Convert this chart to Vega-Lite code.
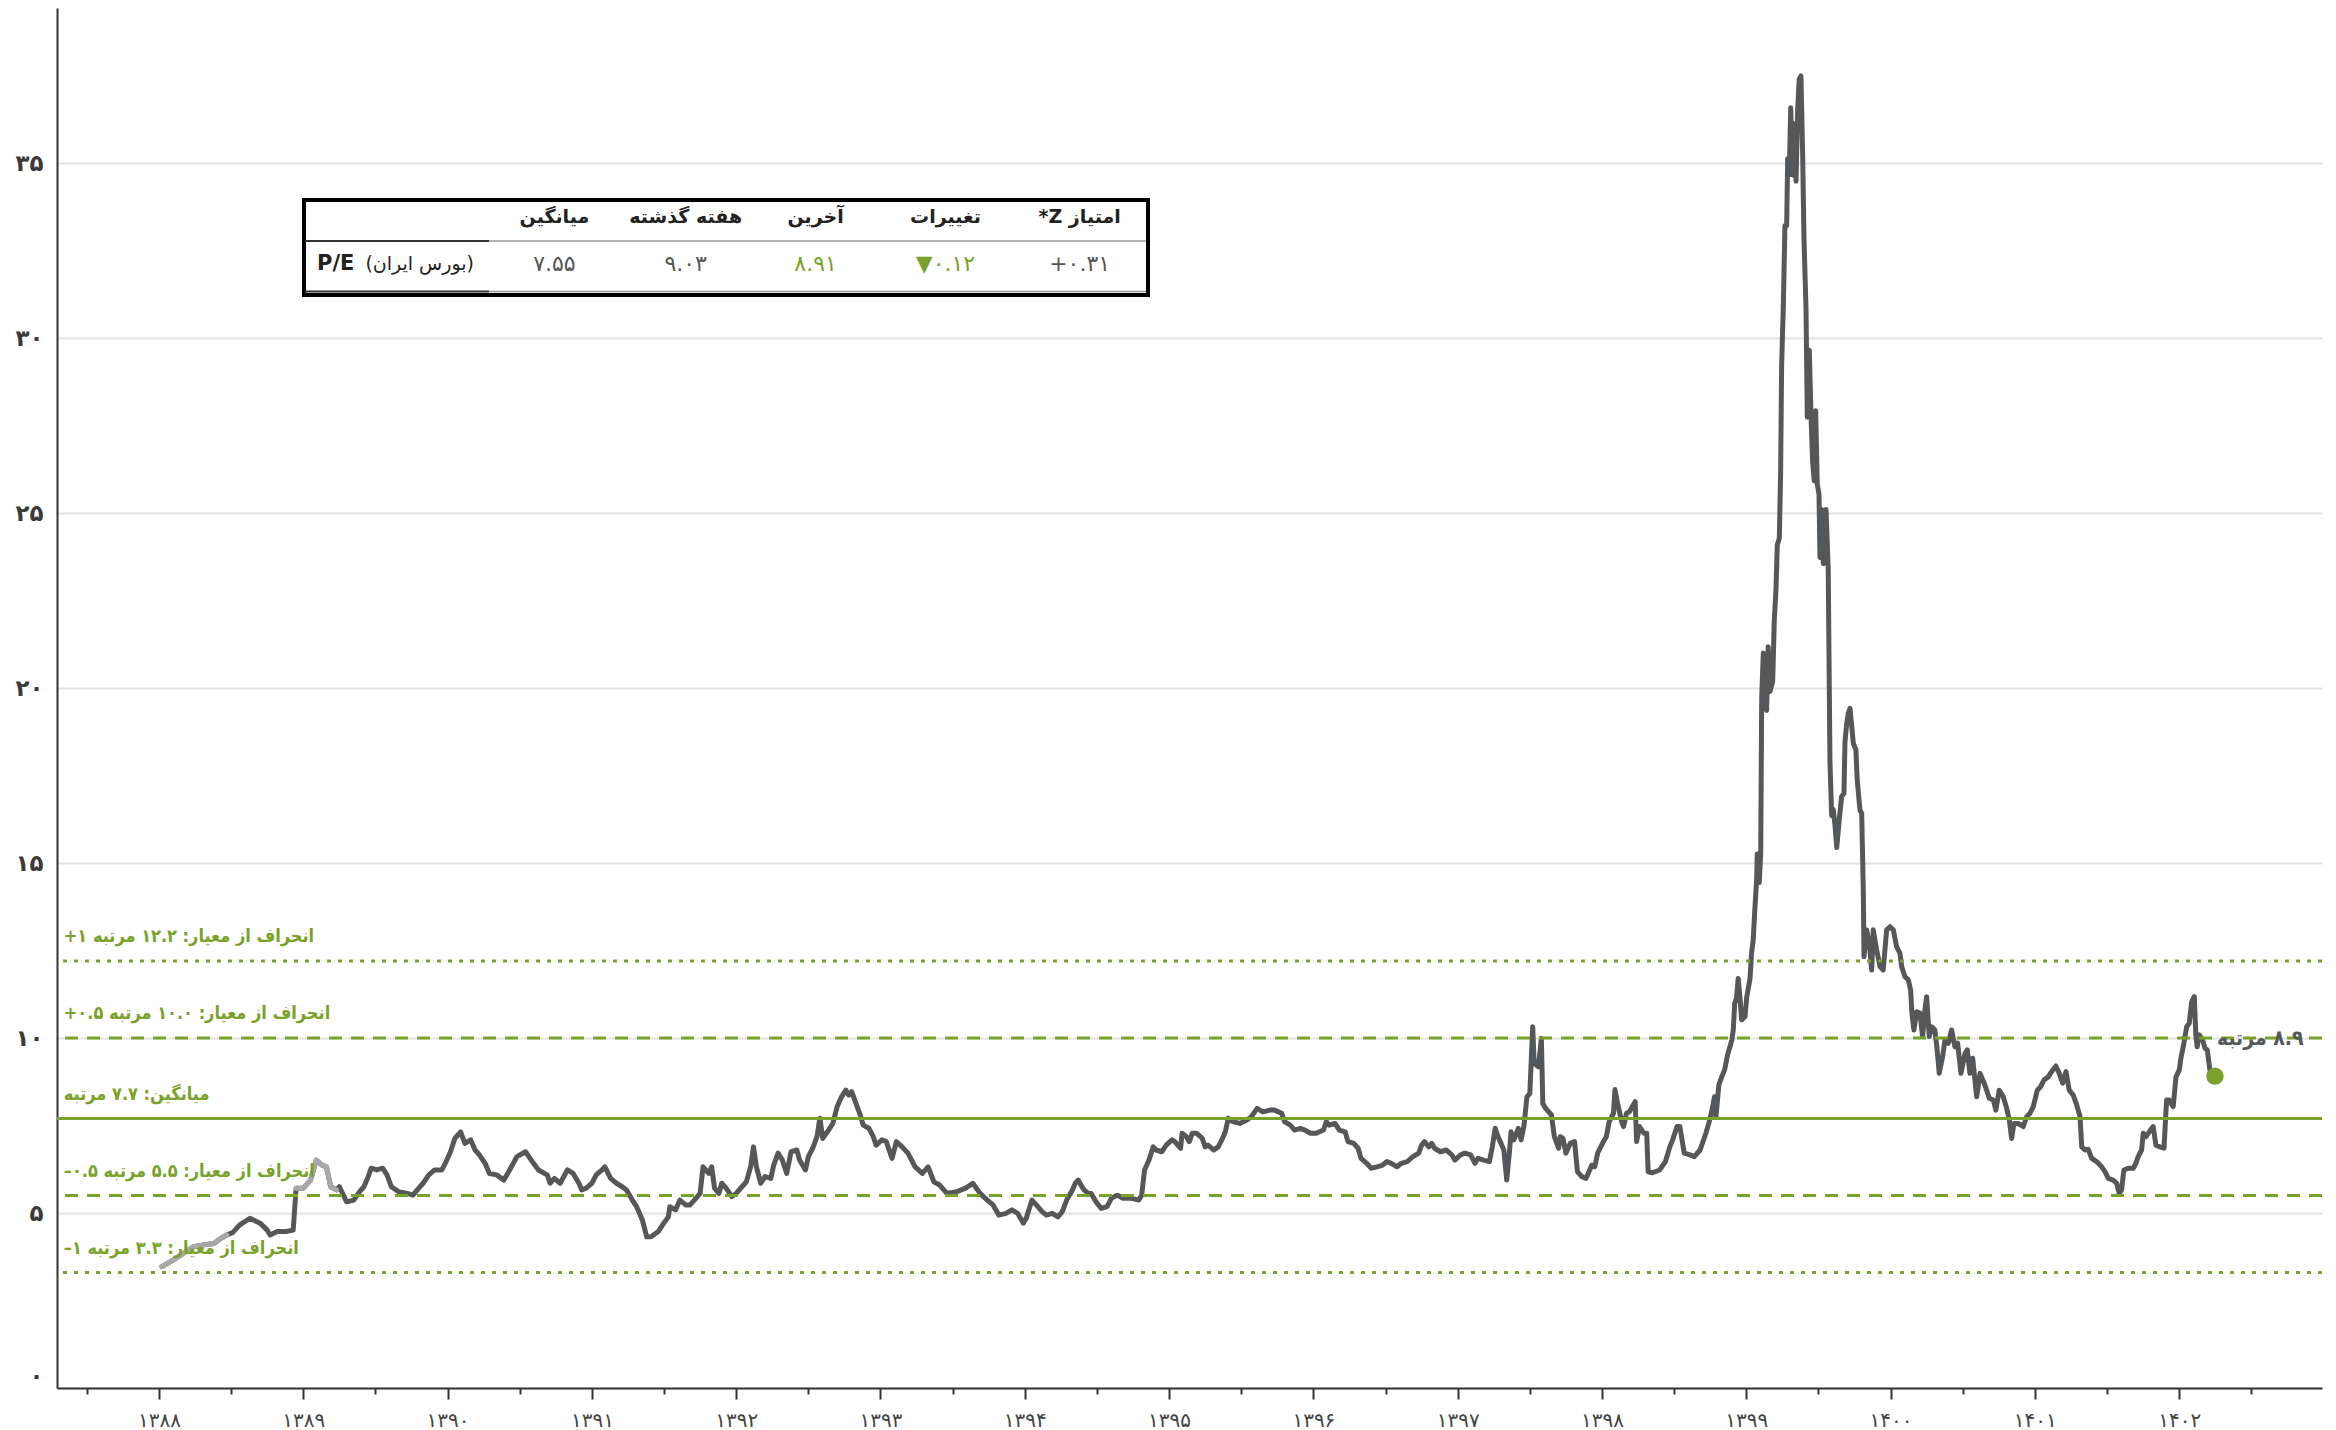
{
  "$schema": "https://vega.github.io/schema/vega-lite/v6.json",
  "width": 2265,
  "height": 1380,
  "autosize": "none",
  "padding": {"left": 57, "top": 8, "right": 14, "bottom": 42},
  "background": "white",
  "config": {"view": {"stroke": null}, "font": "DejaVu Sans"},
  "datasets": {
    "pe": [
      {"year":1388.02,"pe":3.47},{"year":1388.10,"pe":3.66},{"year":1388.17,"pe":3.85},{"year":1388.24,"pe":4.04},{"year":1388.31,"pe":4.09},{"year":1388.38,"pe":4.13},{"year":1388.43,"pe":4.28},{"year":1388.47,"pe":4.37},{"year":1388.51,"pe":4.44},{"year":1388.56,"pe":4.66},{"year":1388.63,"pe":4.85},{"year":1388.70,"pe":4.71},{"year":1388.75,"pe":4.51},{"year":1388.77,"pe":4.37},{"year":1388.82,"pe":4.47},{"year":1388.88,"pe":4.47},{"year":1388.93,"pe":4.51},{"year":1388.95,"pe":5.71},{"year":1389.00,"pe":5.71},{"year":1389.05,"pe":5.94},{"year":1389.09,"pe":6.51},{"year":1389.13,"pe":6.37},{"year":1389.16,"pe":6.32},{"year":1389.19,"pe":5.75},{"year":1389.23,"pe":5.66},
      {"year":1389.25,"pe":5.75},{"year":1389.30,"pe":5.32},{"year":1389.35,"pe":5.37},{"year":1389.39,"pe":5.61},{"year":1389.42,"pe":5.75},{"year":1389.45,"pe":6.04},{"year":1389.47,"pe":6.28},{"year":1389.51,"pe":6.23},{"year":1389.55,"pe":6.28},{"year":1389.58,"pe":6.09},{"year":1389.61,"pe":5.75},{"year":1389.66,"pe":5.61},{"year":1389.72,"pe":5.56},{"year":1389.76,"pe":5.51},{"year":1389.80,"pe":5.71},{"year":1389.83,"pe":5.85},{"year":1389.87,"pe":6.09},{"year":1389.91,"pe":6.23},{"year":1389.96,"pe":6.23},{"year":1389.99,"pe":6.47},
      {"year":1390.02,"pe":6.75},{"year":1390.05,"pe":7.13},{"year":1390.09,"pe":7.32},{"year":1390.12,"pe":6.99},{"year":1390.16,"pe":7.09},{"year":1390.19,"pe":6.80},{"year":1390.22,"pe":6.66},{"year":1390.26,"pe":6.42},{"year":1390.29,"pe":6.13},{"year":1390.34,"pe":6.09},{"year":1390.39,"pe":5.94},{"year":1390.43,"pe":6.23},{"year":1390.48,"pe":6.61},{"year":1390.54,"pe":6.75},{"year":1390.58,"pe":6.51},{"year":1390.63,"pe":6.23},{"year":1390.69,"pe":6.09},{"year":1390.71,"pe":5.85},{"year":1390.74,"pe":5.99},{"year":1390.78,"pe":5.85},{"year":1390.83,"pe":6.23},{"year":1390.87,"pe":6.13},{"year":1390.91,"pe":5.85},{"year":1390.93,"pe":5.66},{"year":1390.96,"pe":5.71},
      {"year":1391.00,"pe":5.85},{"year":1391.03,"pe":6.09},{"year":1391.07,"pe":6.23},{"year":1391.09,"pe":6.32},{"year":1391.13,"pe":5.99},{"year":1391.17,"pe":5.85},{"year":1391.21,"pe":5.75},{"year":1391.24,"pe":5.66},{"year":1391.28,"pe":5.37},{"year":1391.31,"pe":5.18},{"year":1391.35,"pe":4.80},{"year":1391.38,"pe":4.32},{"year":1391.41,"pe":4.32},{"year":1391.46,"pe":4.47},{"year":1391.49,"pe":4.66},{"year":1391.53,"pe":4.89},{"year":1391.54,"pe":5.18},{"year":1391.58,"pe":5.09},{"year":1391.61,"pe":5.37},{"year":1391.65,"pe":5.23},{"year":1391.68,"pe":5.23},{"year":1391.71,"pe":5.37},{"year":1391.75,"pe":5.56},{"year":1391.77,"pe":6.32},{"year":1391.81,"pe":6.13},{"year":1391.83,"pe":6.32},{"year":1391.85,"pe":5.71},{"year":1391.88,"pe":5.56},{"year":1391.90,"pe":5.85},{"year":1391.93,"pe":5.71},{"year":1391.97,"pe":5.47},
      {"year":1392.00,"pe":5.56},{"year":1392.04,"pe":5.75},{"year":1392.07,"pe":5.89},{"year":1392.10,"pe":6.32},{"year":1392.12,"pe":6.89},{"year":1392.14,"pe":6.32},{"year":1392.17,"pe":5.85},{"year":1392.20,"pe":6.04},{"year":1392.24,"pe":5.99},{"year":1392.26,"pe":6.37},{"year":1392.29,"pe":6.71},{"year":1392.32,"pe":6.51},{"year":1392.35,"pe":6.13},{"year":1392.38,"pe":6.75},{"year":1392.42,"pe":6.80},{"year":1392.44,"pe":6.51},{"year":1392.48,"pe":6.23},{"year":1392.50,"pe":6.61},{"year":1392.53,"pe":6.85},{"year":1392.56,"pe":7.18},{"year":1392.58,"pe":7.71},{"year":1392.60,"pe":7.13},{"year":1392.64,"pe":7.37},{"year":1392.67,"pe":7.56},{"year":1392.70,"pe":8.04},{"year":1392.73,"pe":8.32},{"year":1392.76,"pe":8.51},{"year":1392.78,"pe":8.37},{"year":1392.80,"pe":8.47},{"year":1392.83,"pe":8.13},{"year":1392.86,"pe":7.80},{"year":1392.88,"pe":7.51},{"year":1392.92,"pe":7.42},{"year":1392.95,"pe":7.18},{"year":1392.97,"pe":6.94},
      {"year":1393.01,"pe":7.09},{"year":1393.04,"pe":7.04},{"year":1393.08,"pe":6.56},{"year":1393.11,"pe":7.04},{"year":1393.15,"pe":6.89},{"year":1393.19,"pe":6.71},{"year":1393.24,"pe":6.32},{"year":1393.29,"pe":6.13},{"year":1393.33,"pe":6.32},{"year":1393.37,"pe":5.89},{"year":1393.41,"pe":5.80},{"year":1393.46,"pe":5.56},{"year":1393.53,"pe":5.61},{"year":1393.59,"pe":5.71},{"year":1393.64,"pe":5.85},{"year":1393.69,"pe":5.56},{"year":1393.74,"pe":5.37},{"year":1393.78,"pe":5.23},{"year":1393.82,"pe":4.94},{"year":1393.87,"pe":4.99},{"year":1393.91,"pe":5.09},{"year":1393.95,"pe":4.99},{"year":1393.99,"pe":4.71},
      {"year":1394.01,"pe":4.85},{"year":1394.05,"pe":5.37},{"year":1394.08,"pe":5.23},{"year":1394.12,"pe":5.04},{"year":1394.15,"pe":4.94},{"year":1394.19,"pe":4.99},{"year":1394.23,"pe":4.89},{"year":1394.26,"pe":5.04},{"year":1394.29,"pe":5.37},{"year":1394.33,"pe":5.66},{"year":1394.35,"pe":5.85},{"year":1394.37,"pe":5.94},{"year":1394.41,"pe":5.66},{"year":1394.44,"pe":5.56},{"year":1394.46,"pe":5.56},{"year":1394.50,"pe":5.28},{"year":1394.53,"pe":5.13},{"year":1394.57,"pe":5.18},{"year":1394.60,"pe":5.42},{"year":1394.64,"pe":5.51},{"year":1394.68,"pe":5.42},{"year":1394.74,"pe":5.42},{"year":1394.79,"pe":5.37},{"year":1394.81,"pe":5.51},{"year":1394.83,"pe":6.23},{"year":1394.86,"pe":6.51},{"year":1394.89,"pe":6.89},{"year":1394.91,"pe":6.80},{"year":1394.95,"pe":6.75},{"year":1394.98,"pe":6.94},
      {"year":1395.02,"pe":7.09},{"year":1395.04,"pe":7.04},{"year":1395.08,"pe":6.85},{"year":1395.09,"pe":7.28},{"year":1395.12,"pe":7.18},{"year":1395.14,"pe":7.04},{"year":1395.16,"pe":7.28},{"year":1395.19,"pe":7.28},{"year":1395.23,"pe":7.13},{"year":1395.25,"pe":6.89},{"year":1395.27,"pe":6.94},{"year":1395.31,"pe":6.80},{"year":1395.34,"pe":6.89},{"year":1395.36,"pe":7.04},{"year":1395.39,"pe":7.32},{"year":1395.41,"pe":7.71},{"year":1395.44,"pe":7.61},{"year":1395.49,"pe":7.56},{"year":1395.54,"pe":7.66},{"year":1395.57,"pe":7.75},{"year":1395.61,"pe":7.99},{"year":1395.65,"pe":7.89},{"year":1395.70,"pe":7.94},{"year":1395.73,"pe":7.94},{"year":1395.78,"pe":7.85},{"year":1395.80,"pe":7.61},{"year":1395.84,"pe":7.51},{"year":1395.87,"pe":7.37},{"year":1395.91,"pe":7.42},{"year":1395.94,"pe":7.37},{"year":1395.98,"pe":7.28},
      {"year":1396.02,"pe":7.28},{"year":1396.07,"pe":7.37},{"year":1396.09,"pe":7.61},{"year":1396.11,"pe":7.51},{"year":1396.15,"pe":7.56},{"year":1396.18,"pe":7.37},{"year":1396.22,"pe":7.32},{"year":1396.24,"pe":7.04},{"year":1396.28,"pe":6.99},{"year":1396.31,"pe":6.85},{"year":1396.33,"pe":6.56},{"year":1396.37,"pe":6.42},{"year":1396.40,"pe":6.28},{"year":1396.44,"pe":6.32},{"year":1396.48,"pe":6.37},{"year":1396.51,"pe":6.47},{"year":1396.54,"pe":6.42},{"year":1396.58,"pe":6.32},{"year":1396.61,"pe":6.42},{"year":1396.65,"pe":6.47},{"year":1396.69,"pe":6.61},{"year":1396.73,"pe":6.71},{"year":1396.75,"pe":6.94},{"year":1396.77,"pe":7.04},{"year":1396.80,"pe":6.89},{"year":1396.82,"pe":6.99},{"year":1396.84,"pe":6.85},{"year":1396.88,"pe":6.75},{"year":1396.92,"pe":6.80},{"year":1396.96,"pe":6.66},{"year":1396.98,"pe":6.51},
      {"year":1397.02,"pe":6.66},{"year":1397.05,"pe":6.71},{"year":1397.09,"pe":6.66},{"year":1397.12,"pe":6.42},{"year":1397.14,"pe":6.56},{"year":1397.18,"pe":6.51},{"year":1397.22,"pe":6.47},{"year":1397.24,"pe":6.89},{"year":1397.26,"pe":7.42},{"year":1397.28,"pe":7.18},{"year":1397.32,"pe":6.80},{"year":1397.34,"pe":5.94},{"year":1397.36,"pe":6.80},{"year":1397.37,"pe":7.32},{"year":1397.39,"pe":7.09},{"year":1397.42,"pe":7.42},{"year":1397.44,"pe":7.09},{"year":1397.46,"pe":7.51},{"year":1397.48,"pe":8.32},{"year":1397.50,"pe":8.42},{"year":1397.52,"pe":10.32},{"year":1397.53,"pe":9.28},{"year":1397.56,"pe":9.18},{"year":1397.58,"pe":9.99},{"year":1397.59,"pe":8.13},{"year":1397.61,"pe":7.99},{"year":1397.65,"pe":7.80},{"year":1397.67,"pe":7.18},{"year":1397.70,"pe":6.85},{"year":1397.71,"pe":7.18},{"year":1397.73,"pe":7.13},{"year":1397.75,"pe":6.71},{"year":1397.78,"pe":6.99},{"year":1397.81,"pe":7.04},{"year":1397.83,"pe":6.18},{"year":1397.86,"pe":6.04},{"year":1397.89,"pe":5.99},{"year":1397.93,"pe":6.37},{"year":1397.95,"pe":6.32},{"year":1397.97,"pe":6.71},
      {"year":1398.01,"pe":7.04},{"year":1398.03,"pe":7.18},{"year":1398.05,"pe":7.61},{"year":1398.08,"pe":7.85},{"year":1398.09,"pe":8.53},{"year":1398.11,"pe":8.09},{"year":1398.14,"pe":7.56},{"year":1398.15,"pe":7.47},{"year":1398.17,"pe":7.85},{"year":1398.19,"pe":7.89},{"year":1398.21,"pe":8.04},{"year":1398.23,"pe":8.18},{"year":1398.24,"pe":7.04},{"year":1398.26,"pe":7.47},{"year":1398.29,"pe":7.28},{"year":1398.31,"pe":7.28},{"year":1398.32,"pe":6.18},{"year":1398.35,"pe":6.15},{"year":1398.40,"pe":6.23},{"year":1398.44,"pe":6.47},{"year":1398.47,"pe":6.89},{"year":1398.49,"pe":7.09},{"year":1398.52,"pe":7.47},{"year":1398.54,"pe":7.47},{"year":1398.57,"pe":6.71},{"year":1398.61,"pe":6.66},{"year":1398.64,"pe":6.61},{"year":1398.68,"pe":6.80},{"year":1398.72,"pe":7.28},{"year":1398.74,"pe":7.56},{"year":1398.76,"pe":7.89},{"year":1398.78,"pe":8.32},{"year":1398.79,"pe":7.75},{"year":1398.81,"pe":8.66},{"year":1398.83,"pe":8.89},{"year":1398.85,"pe":9.09},{"year":1398.87,"pe":9.51},{"year":1398.90,"pe":9.94},{"year":1398.91,"pe":10.23},{"year":1398.92,"pe":10.99},{"year":1398.933,"pe":11.16},{"year":1398.944,"pe":11.70},{"year":1398.956,"pe":11.16},{"year":1398.968,"pe":10.52},{"year":1398.991,"pe":10.61},
      {"year":1399.003,"pe":11.16},{"year":1399.026,"pe":11.70},{"year":1399.037,"pe":12.43},{"year":1399.048,"pe":12.80},{"year":1399.060,"pe":13.71},{"year":1399.072,"pe":14.53},{"year":1399.076,"pe":15.26},{"year":1399.090,"pe":14.44},{"year":1399.100,"pe":15.26},{"year":1399.107,"pe":19.72},{"year":1399.118,"pe":21.00},{"year":1399.130,"pe":19.99},{"year":1399.141,"pe":19.36},{"year":1399.152,"pe":21.18},{"year":1399.164,"pe":19.90},{"year":1399.183,"pe":20.18},{"year":1399.194,"pe":21.91},{"year":1399.206,"pe":22.82},{"year":1399.215,"pe":24.09},{"year":1399.229,"pe":24.28},{"year":1399.238,"pe":26.10},{"year":1399.245,"pe":29.20},{"year":1399.257,"pe":30.93},{"year":1399.268,"pe":33.21},{"year":1399.280,"pe":33.21},{"year":1399.287,"pe":35.12},{"year":1399.298,"pe":34.66},{"year":1399.308,"pe":36.58},{"year":1399.322,"pe":34.66},{"year":1399.331,"pe":36.12},{"year":1399.345,"pe":34.48},{"year":1399.356,"pe":36.49},{"year":1399.367,"pe":37.40},{"year":1399.379,"pe":37.49},{"year":1399.391,"pe":35.21},{"year":1399.400,"pe":32.84},{"year":1399.414,"pe":30.84},{"year":1399.423,"pe":27.74},{"year":1399.437,"pe":29.65},{"year":1399.449,"pe":27.74},{"year":1399.460,"pe":26.46},{"year":1399.471,"pe":25.92},{"year":1399.481,"pe":27.92},{"year":1399.492,"pe":25.83},{"year":1399.504,"pe":25.54},{"year":1399.511,"pe":23.73},{"year":1399.523,"pe":25.10},{"year":1399.534,"pe":23.55},{"year":1399.553,"pe":25.10},{"year":1399.568,"pe":23.37},{"year":1399.580,"pe":17.90},{"year":1399.592,"pe":16.35},{"year":1399.603,"pe":16.53},{"year":1399.615,"pe":16.08},{"year":1399.627,"pe":15.44},{"year":1399.645,"pe":16.26},{"year":1399.661,"pe":16.90},{"year":1399.677,"pe":16.99},{"year":1399.684,"pe":18.45},{"year":1399.696,"pe":18.99},{"year":1399.707,"pe":19.27},{"year":1399.719,"pe":19.42},{"year":1399.742,"pe":18.42},{"year":1399.760,"pe":18.23},{"year":1399.769,"pe":17.37},{"year":1399.788,"pe":16.51},{"year":1399.800,"pe":16.42},{"year":1399.811,"pe":14.23},{"year":1399.816,"pe":12.32},{"year":1399.834,"pe":13.09},{"year":1399.853,"pe":12.71},{"year":1399.869,"pe":11.94},{"year":1399.880,"pe":13.09},{"year":1399.904,"pe":12.51},{"year":1399.927,"pe":12.04},{"year":1399.949,"pe":11.94},{"year":1399.973,"pe":13.09},{"year":1399.996,"pe":13.18},
      {"year":1400.019,"pe":13.09},{"year":1400.042,"pe":12.61},{"year":1400.065,"pe":12.42},{"year":1400.077,"pe":12.04},{"year":1400.100,"pe":11.75},{"year":1400.123,"pe":11.66},{"year":1400.139,"pe":11.37},{"year":1400.148,"pe":10.71},{"year":1400.162,"pe":10.23},{"year":1400.181,"pe":10.75},{"year":1400.204,"pe":10.71},{"year":1400.222,"pe":10.04},{"year":1400.238,"pe":10.80},{"year":1400.250,"pe":11.18},{"year":1400.268,"pe":10.04},{"year":1400.285,"pe":10.32},{"year":1400.307,"pe":10.23},{"year":1400.323,"pe":9.66},{"year":1400.337,"pe":8.99},{"year":1400.361,"pe":9.47},{"year":1400.377,"pe":9.94},{"year":1400.400,"pe":9.85},{"year":1400.423,"pe":10.23},{"year":1400.446,"pe":9.75},{"year":1400.465,"pe":9.85},{"year":1400.488,"pe":8.99},{"year":1400.516,"pe":9.56},{"year":1400.532,"pe":9.66},{"year":1400.550,"pe":8.99},{"year":1400.569,"pe":9.42},{"year":1400.597,"pe":8.32},{"year":1400.620,"pe":8.99},{"year":1400.654,"pe":8.66},{"year":1400.684,"pe":8.28},{"year":1400.712,"pe":8.23},{"year":1400.730,"pe":7.94},{"year":1400.753,"pe":8.51},{"year":1400.781,"pe":8.32},{"year":1400.805,"pe":7.99},{"year":1400.823,"pe":7.66},{"year":1400.839,"pe":7.13},{"year":1400.855,"pe":7.56},{"year":1400.885,"pe":7.56},{"year":1400.920,"pe":7.47},{"year":1400.943,"pe":7.75},{"year":1400.966,"pe":7.85},{"year":1400.989,"pe":8.04},
      {"year":1401.017,"pe":8.51},{"year":1401.040,"pe":8.61},{"year":1401.063,"pe":8.80},{"year":1401.093,"pe":8.89},{"year":1401.116,"pe":9.04},{"year":1401.146,"pe":9.20},{"year":1401.169,"pe":8.99},{"year":1401.193,"pe":8.71},{"year":1401.216,"pe":9.04},{"year":1401.238,"pe":8.51},{"year":1401.266,"pe":8.37},{"year":1401.290,"pe":8.09},{"year":1401.313,"pe":7.75},{"year":1401.325,"pe":6.89},{"year":1401.347,"pe":6.80},{"year":1401.370,"pe":6.82},{"year":1401.394,"pe":6.56},{"year":1401.428,"pe":6.47},{"year":1401.463,"pe":6.32},{"year":1401.486,"pe":6.18},{"year":1401.509,"pe":5.99},{"year":1401.543,"pe":5.94},{"year":1401.567,"pe":5.85},{"year":1401.585,"pe":5.56},{"year":1401.601,"pe":5.66},{"year":1401.617,"pe":6.23},{"year":1401.647,"pe":6.28},{"year":1401.682,"pe":6.28},{"year":1401.700,"pe":6.42},{"year":1401.716,"pe":6.61},{"year":1401.740,"pe":6.80},{"year":1401.751,"pe":7.28},{"year":1401.770,"pe":7.18},{"year":1401.793,"pe":7.32},{"year":1401.820,"pe":7.47},{"year":1401.839,"pe":6.94},{"year":1401.867,"pe":6.89},{"year":1401.895,"pe":6.85},{"year":1401.913,"pe":8.23},{"year":1401.931,"pe":8.23},{"year":1401.959,"pe":8.04},{"year":1401.978,"pe":8.89},
      {"year":1402.001,"pe":9.09},{"year":1402.012,"pe":9.42},{"year":1402.033,"pe":9.85},{"year":1402.052,"pe":10.32},{"year":1402.070,"pe":10.42},{"year":1402.087,"pe":11.04},{"year":1402.105,"pe":11.18},{"year":1402.116,"pe":10.04},{"year":1402.125,"pe":9.75},{"year":1402.139,"pe":10.09},{"year":1402.163,"pe":9.94},{"year":1402.179,"pe":9.71},{"year":1402.195,"pe":9.66},{"year":1402.213,"pe":9.09},{"year":1402.248,"pe":8.91}
    ],
    "est": [
      {"seg":"a","year":1388.02,"pe":3.47},{"seg":"a","year":1388.10,"pe":3.66},{"seg":"a","year":1388.17,"pe":3.85},{"seg":"a","year":1388.24,"pe":4.04},{"seg":"a","year":1388.31,"pe":4.09},{"seg":"a","year":1388.38,"pe":4.13},{"seg":"a","year":1388.43,"pe":4.28},{"seg":"a","year":1388.47,"pe":4.37},
      {"seg":"b","year":1388.95,"pe":5.71},{"seg":"b","year":1389.00,"pe":5.71},{"seg":"b","year":1389.05,"pe":5.94},{"seg":"b","year":1389.09,"pe":6.51},{"seg":"b","year":1389.13,"pe":6.37},{"seg":"b","year":1389.16,"pe":6.32},{"seg":"b","year":1389.19,"pe":5.75},{"seg":"b","year":1389.23,"pe":5.66}
    ],
    "levels": [
      {"sd":"+1","level":12.2,"label":"\u200f\u202a+۱\u202c انحراف از معیار:  ۱۲.۲ مرتبه"},
      {"sd":"+0.5","level":10.0,"label":"\u200f\u202a+۰.۵\u202c انحراف از معیار:  ۱۰.۰ مرتبه"},
      {"sd":"0","level":7.7,"label":"\u200fمیانگین:  ۷.۷ مرتبه"},
      {"sd":"-0.5","level":5.5,"label":"\u200f\u202a–۰.۵\u202c انحراف از معیار:  ۵.۵ مرتبه"},
      {"sd":"-1","level":3.3,"label":"\u200f\u202a–۱\u202c انحراف از معیار:  ۳.۳ مرتبه"}
    ],
    "last": [{"year":1402.248,"pe":8.91,"label":"\u200f۸.۹ مرتبه"}],
    "tbl": [{"metric":"P/E","market":"\u202b(بورس ایران)\u202c","h_z":"\u202bامتیاز Z*\u202c","h_chg":"تغییرات","h_last":"آخرین","h_week":"هفته گذشته","h_avg":"میانگین","z":"+۰.۳۱","chg":"▼۰.۱۲","last":"۸.۹۱","week":"۹.۰۳","avg":"۷.۵۵"}]
  },
  "layer": [
    {
      "data": {"name": "pe"},
      "mark": {"type": "line", "color": "#54585b", "strokeWidth": 5, "strokeJoin": "round", "strokeCap": "round"},
      "encoding": {
        "x": {"field": "year", "type": "quantitative",
          "scale": {"domain": [1387.293, 1402.99], "nice": false, "zero": false},
          "axis": {"title": null, "grid": false,
            "values": [1387.5,1387.75,1388,1388.25,1388.5,1388.75,1389,1389.25,1389.5,1389.75,1390,1390.25,1390.5,1390.75,1391,1391.25,1391.5,1391.75,1392,1392.25,1392.5,1392.75,1393,1393.25,1393.5,1393.75,1394,1394.25,1394.5,1394.75,1395,1395.25,1395.5,1395.75,1396,1396.25,1396.5,1396.75,1397,1397.25,1397.5,1397.75,1398,1398.25,1398.5,1398.75,1399,1399.25,1399.5,1399.75,1400,1400.25,1400.5,1400.75,1401,1401.25,1401.5,1401.75,1402,1402.25,1402.5,1402.75],
            "labelExpr": "datum.value % 1 === 0 ? replace(replace(replace(replace(replace(replace(replace(replace(replace(replace(toString(datum.value),regexp('0','g'),'۰'),regexp('1','g'),'۱'),regexp('2','g'),'۲'),regexp('3','g'),'۳'),regexp('4','g'),'۴'),regexp('5','g'),'۵'),regexp('6','g'),'۶'),regexp('7','g'),'۷'),regexp('8','g'),'۸'),regexp('9','g'),'۹') : ''",
            "labelFlush": false, "labelOverlap": false, "labelFont": "DejaVu Sans", "labelFontSize": 20, "labelColor": "#444", "labelPadding": 21, "labelBaseline": "middle",
            "domainColor": "#333", "domainWidth": 2, "tickColor": "#333", "tickWidth": 2,
            "tickSize": {"condition": {"test": "datum.value % 1 === 0", "value": 11}, "value": 6}
          }
        },
        "y": {"field": "pe", "type": "quantitative",
          "scale": {"domain": [0, 39.43], "nice": false},
          "axis": {"title": null, "values": [0,5,10,15,20,25,30,35], "grid": true, "gridColor": "#e2e2e2", "gridWidth": 2, "ticks": false, "labelFlush": true,
            "domainColor": "#333", "domainWidth": 2, "labelPadding": 14, "labelFont": "DejaVu Sans", "labelFontSize": 23, "labelFontWeight": "bold", "labelColor": "#3a3a3a",
            "labelExpr": "replace(replace(replace(replace(replace(replace(replace(replace(replace(replace(toString(datum.value),regexp('0','g'),'۰'),regexp('1','g'),'۱'),regexp('2','g'),'۲'),regexp('3','g'),'۳'),regexp('4','g'),'۴'),regexp('5','g'),'۵'),regexp('6','g'),'۶'),regexp('7','g'),'۷'),regexp('8','g'),'۸'),regexp('9','g'),'۹')"
          }
        }
      }
    },
    {
      "data": {"name": "est"},
      "mark": {"type": "line", "color": "#a8a8a8", "strokeWidth": 5, "strokeJoin": "round", "strokeCap": "round"},
      "encoding": {
        "x": {"field": "year", "type": "quantitative"},
        "y": {"field": "pe", "type": "quantitative"},
        "detail": {"field": "seg"}
      }
    },
    {
      "data": {"name": "levels"},
      "mark": {"type": "rule", "color": "#79a22b", "strokeWidth": 3},
      "encoding": {
        "y": {"field": "level", "type": "quantitative"},
        "strokeDash": {"field": "sd", "type": "nominal", "legend": null,
          "scale": {"domain": ["+1","+0.5","0","-0.5","-1"], "range": [[4,7],[13,9],[1,0],[13,9],[4,7]]}}
      }
    },
    {
      "data": {"name": "levels"},
      "mark": {"type": "text", "color": "#79a22b", "font": "DejaVu Sans Condensed, DejaVu Sans", "fontSize": 18, "fontWeight": "bold", "align": "left", "baseline": "middle", "dy": -24},
      "encoding": {
        "x": {"datum": 1387.34},
        "y": {"field": "level", "type": "quantitative"},
        "text": {"field": "label"}
      }
    },
    {
      "data": {"name": "last"},
      "mark": {"type": "point", "filled": true, "color": "#79a22b", "size": 300, "opacity": 1},
      "encoding": {
        "x": {"field": "year", "type": "quantitative"},
        "y": {"field": "pe", "type": "quantitative"}
      }
    },
    {
      "data": {"name": "last"},
      "mark": {"type": "text", "color": "#54585b", "font": "DejaVu Sans Condensed, DejaVu Sans", "fontSize": 21, "fontWeight": "bold", "align": "left", "baseline": "middle", "dx": 2, "dy": -37},
      "encoding": {
        "x": {"field": "year", "type": "quantitative"},
        "y": {"field": "pe", "type": "quantitative"},
        "text": {"field": "label"}
      }
    },
    {
      "data": {"name": "tbl"},
      "mark": {"type": "rect", "fill": "white", "stroke": "#000", "strokeWidth": 4},
      "encoding": {"x": {"datum": 1389.005}, "x2": {"datum": 1394.854}, "y": {"datum": 33.943}, "y2": {"datum": 31.229}}
    },
    {
      "data": {"name": "tbl"},
      "mark": {"type": "rule", "color": "#333", "strokeWidth": 2},
      "encoding": {"x": {"datum": 1389.012}, "x2": {"datum": 1390.287}, "y": {"datum": 32.77}}
    },
    {
      "data": {"name": "tbl"},
      "mark": {"type": "rule", "color": "#999", "strokeWidth": 1.5},
      "encoding": {"x": {"datum": 1390.287}, "x2": {"datum": 1394.84}, "y": {"datum": 32.77}}
    },
    {
      "data": {"name": "tbl"},
      "mark": {"type": "rule", "color": "#333", "strokeWidth": 2},
      "encoding": {"x": {"datum": 1389.012}, "x2": {"datum": 1390.287}, "y": {"datum": 31.33}}
    },
    {
      "data": {"name": "tbl"},
      "mark": {"type": "rule", "color": "#999", "strokeWidth": 1.5},
      "encoding": {"x": {"datum": 1390.287}, "x2": {"datum": 1394.84}, "y": {"datum": 31.33}}
    },
    {"data": {"name": "tbl"}, "mark": {"type": "text", "font": "DejaVu Sans", "fontSize": 19, "fontWeight": "bold", "color": "#222"}, "encoding": {"x": {"datum": 1394.38}, "y": {"datum": 33.46}, "text": {"field": "h_z"}}},
    {"data": {"name": "tbl"}, "mark": {"type": "text", "font": "DejaVu Sans", "fontSize": 19, "fontWeight": "bold", "color": "#222"}, "encoding": {"x": {"datum": 1393.45}, "y": {"datum": 33.46}, "text": {"field": "h_chg"}}},
    {"data": {"name": "tbl"}, "mark": {"type": "text", "font": "DejaVu Sans", "fontSize": 19, "fontWeight": "bold", "color": "#222"}, "encoding": {"x": {"datum": 1392.55}, "y": {"datum": 33.46}, "text": {"field": "h_last"}}},
    {"data": {"name": "tbl"}, "mark": {"type": "text", "font": "DejaVu Sans", "fontSize": 19, "fontWeight": "bold", "color": "#222"}, "encoding": {"x": {"datum": 1391.65}, "y": {"datum": 33.46}, "text": {"field": "h_week"}}},
    {"data": {"name": "tbl"}, "mark": {"type": "text", "font": "DejaVu Sans", "fontSize": 19, "fontWeight": "bold", "color": "#222"}, "encoding": {"x": {"datum": 1390.74}, "y": {"datum": 33.46}, "text": {"field": "h_avg"}}},
    {"data": {"name": "tbl"}, "mark": {"type": "text", "font": "DejaVu Sans", "fontSize": 22, "color": "#555"}, "encoding": {"x": {"datum": 1394.38}, "y": {"datum": 32.12}, "text": {"field": "z"}}},
    {"data": {"name": "tbl"}, "mark": {"type": "text", "font": "DejaVu Sans", "fontSize": 22, "color": "#79a22b"}, "encoding": {"x": {"datum": 1393.45}, "y": {"datum": 32.12}, "text": {"field": "chg"}}},
    {"data": {"name": "tbl"}, "mark": {"type": "text", "font": "DejaVu Sans", "fontSize": 22, "color": "#79a22b"}, "encoding": {"x": {"datum": 1392.55}, "y": {"datum": 32.12}, "text": {"field": "last"}}},
    {"data": {"name": "tbl"}, "mark": {"type": "text", "font": "DejaVu Sans", "fontSize": 22, "color": "#555"}, "encoding": {"x": {"datum": 1391.65}, "y": {"datum": 32.12}, "text": {"field": "week"}}},
    {"data": {"name": "tbl"}, "mark": {"type": "text", "font": "DejaVu Sans", "fontSize": 22, "color": "#555"}, "encoding": {"x": {"datum": 1390.74}, "y": {"datum": 32.12}, "text": {"field": "avg"}}},
    {"data": {"name": "tbl"}, "mark": {"type": "text", "font": "DejaVu Sans", "fontSize": 21, "fontWeight": "bold", "color": "#222", "align": "left"}, "encoding": {"x": {"datum": 1389.095}, "y": {"datum": 32.12}, "text": {"field": "metric"}}},
    {"data": {"name": "tbl"}, "mark": {"type": "text", "font": "DejaVu Sans", "fontSize": 19, "color": "#222", "align": "right"}, "encoding": {"x": {"datum": 1390.183}, "y": {"datum": 32.12}, "text": {"field": "market"}}}
  ]
}
